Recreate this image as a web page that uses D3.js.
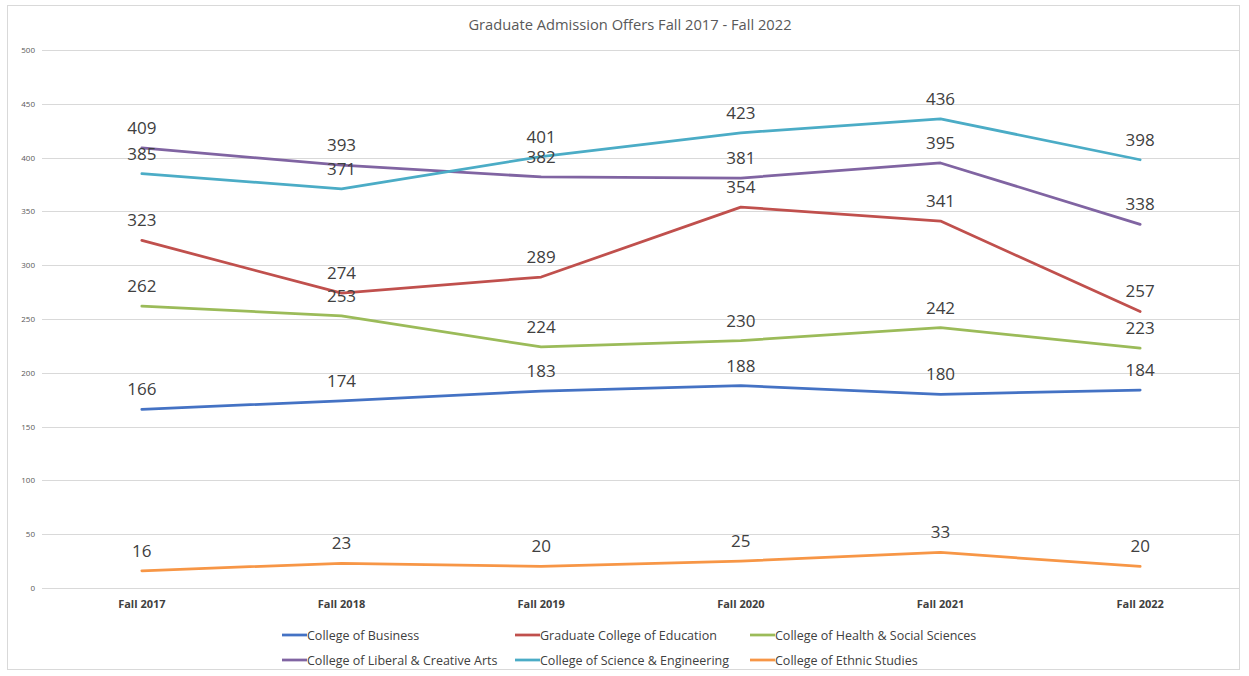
<!DOCTYPE html>
<html><head><meta charset="utf-8">
<script src="https://cdn.jsdelivr.net/npm/d3@7"></script>
<style>body{margin:0;background:#fff}svg{display:block}</style>
</head><body><svg id="c" width="1249" height="676"></svg>
<script>
const categories = ["Fall 2017","Fall 2018","Fall 2019","Fall 2020","Fall 2021","Fall 2022"];
const seriesNames = ["College of Business","Graduate College of Education","College of Health & Social Sciences","College of Liberal & Creative Arts","College of Science & Engineering","College of Ethnic Studies"];
const business = [166,174,183,188,180,184];
const education = [323,274,289,354,341,257];
const health = [262,253,224,230,242,223];
const liberal = [409,393,382,381,395,338];
const science = [385,371,401,423,436,398];
const ethnic = [16,23,20,25,33,20];
const yTicks = [0,50,100,150,200,250,300,350,400,450,500];
const colors = ["#4472C4","#C0504D","#9BBB59","#8064A2","#4BACC6","#F79646"];
const title = "Graduate Admission Offers Fall 2017 - Fall 2022";

const values = [business,education,health,liberal,science,ethnic];
const svg = d3.select("#c");
const font = "'Open Sans', sans-serif";

svg.append("rect").attr("x",7.5).attr("y",5.5).attr("width",1232).attr("height",664)
  .attr("fill","#fff").attr("stroke","#d9d9d9").attr("stroke-width",1);

const x = d3.scaleBand().domain(categories).range([42,1240]);
const y = d3.scaleLinear().domain([0,500]).range([588,50]);

// gridlines
svg.append("g").selectAll("line").data(yTicks).join("line")
  .attr("x1",42).attr("x2",1239)
  .attr("y1",d=>Math.round(y(d))+0.5).attr("y2",d=>Math.round(y(d))+0.5)
  .attr("stroke","#d9d9d9").attr("stroke-width",1);

// y axis labels
const yAxis = d3.axisLeft(y).tickValues(yTicks).tickSize(0).tickPadding(0);
const gy = svg.append("g").attr("transform","translate(35,0)").call(yAxis);
gy.select(".domain").remove();
gy.selectAll("text").attr("font-family",font).attr("font-size",8).attr("fill","#595959");

// x axis labels
const xAxis = d3.axisBottom(x).tickSize(0).tickPadding(0);
const gx = svg.append("g").attr("transform","translate(0,600)").call(xAxis);
gx.select(".domain").remove();
gx.selectAll("text").attr("font-family",font).attr("font-size",11).attr("font-weight","bold").attr("fill","#404040");

// title
svg.append("text").attr("x",630).attr("y",30).attr("text-anchor","middle")
  .attr("font-family",font).attr("font-size",14.7).attr("fill","#595959").text(title);

const cx = d => x(d) + x.bandwidth()/2;
const line = d3.line().x((d,i)=>cx(categories[i])).y(d=>y(d));

values.forEach((vals,si)=>{
  svg.append("path").datum(vals).attr("d",line).attr("fill","none")
    .attr("stroke",colors[si]).attr("stroke-width",2.75).attr("stroke-linejoin","round").attr("stroke-linecap","round");
});
values.forEach((vals,si)=>{
  svg.append("g").selectAll("text").data(vals).join("text")
    .attr("x",(d,i)=>cx(categories[i])).attr("y",d=>y(d)-14)
    .attr("text-anchor","middle").attr("font-family",font).attr("font-size",17)
    .attr("fill","#404040").text(d=>d);
});

// legend
const legX = [282,515,750];
const legY = [635,660];
const leg = svg.append("g");
seriesNames.forEach((n,i)=>{
  const lx = legX[i%3], ly = legY[Math.floor(i/3)];
  leg.append("line").attr("x1",lx).attr("x2",lx+25).attr("y1",ly).attr("y2",ly)
    .attr("stroke",colors[i]).attr("stroke-width",2.75);
  leg.append("text").attr("x",lx+25).attr("y",ly+4.5).attr("font-family",font)
    .attr("font-size",12.5).attr("fill","#404040").text(n);
});
</script></body></html>
